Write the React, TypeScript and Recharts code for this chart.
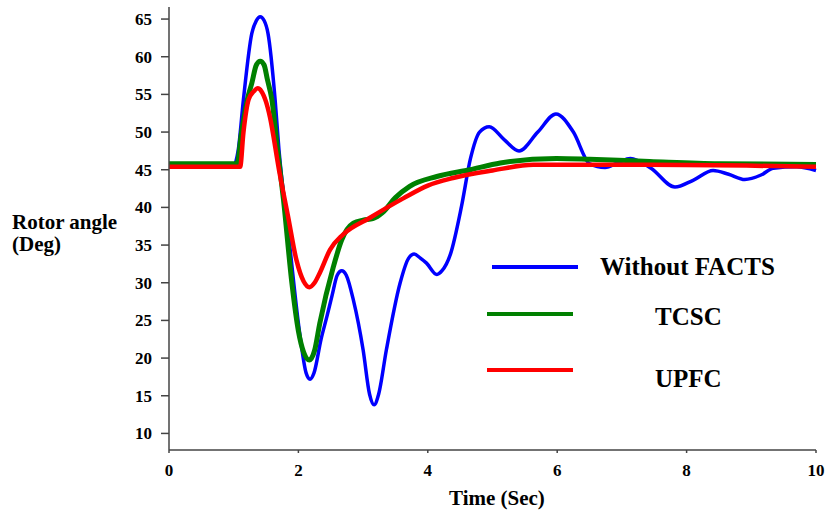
import { Line, LineChart, XAxis, YAxis } from "recharts";

// time (s) and rotor angle (deg)
const withoutFactsTime = [
  0, 1.0, 1.07, 1.15, 1.28, 1.35, 1.41, 1.47, 1.53, 1.64, 1.7, 1.84, 2.02,
  2.12, 2.18, 2.24, 2.35, 2.44, 2.52, 2.6, 2.67, 2.74, 2.85, 3.0, 3.1, 3.17,
  3.24, 3.36, 3.57, 3.7, 3.79, 3.88, 3.98, 4.14, 4.22, 4.35, 4.52, 4.66, 4.8,
  4.95, 5.18, 5.41, 5.7, 5.98, 6.25, 6.5, 6.74, 6.95, 7.13, 7.45, 7.82, 8.1,
  8.41, 8.65, 8.9, 9.15, 9.34, 9.7, 10,
];
const withoutFactsDeg = [
  45.5, 45.6, 47.6, 54.3, 63.1, 64.8, 65.3, 64.8, 63.1, 54.3, 47.6, 37, 23.3,
  18, 17.2, 18, 22.5, 25.5, 28.3, 31, 31.6, 31, 27.7, 21.1, 15.2, 13.8, 15.2,
  21.1, 29.9, 33.2, 33.8, 33.3, 32.6, 31.1, 31.6, 33.8, 40.1, 46.5, 50, 50.7,
  49, 47.5, 50, 52.4, 50, 45.8, 45.3, 46, 46.5, 45.2, 42.7, 43.6, 44.9, 44.4,
  43.7, 44.3, 45.2, 45.4, 44.9,
];

const tcscTime = [
  0, 1.05, 1.12, 1.21, 1.28, 1.35, 1.41, 1.47, 1.52, 1.59, 1.68, 1.77, 1.9,
  2.0, 2.08, 2.17, 2.25, 2.33, 2.54, 2.67, 2.85, 3.0, 3.15, 3.3, 3.5, 3.72,
  4.14, 4.65, 5.12, 5.99, 6.5, 7.43, 8.5, 10,
];
const tcscDeg = [
  45.8, 45.8, 49.9, 54.3, 56.5, 58.9, 59.4, 58.9, 57, 54.3, 47.5, 41, 29.9,
  23.6, 20.8, 19.75, 21, 24.6, 32.1, 35.7, 37.9, 38.3, 38.5, 39.3, 41.3, 42.8,
  44.1, 45.0, 45.9, 46.5, 46.4, 46.1, 45.8, 45.7,
];

const upfcTime = [
  0, 1.1, 1.15, 1.23, 1.31, 1.37, 1.43, 1.5, 1.56, 1.7, 1.84, 1.97, 2.08,
  2.17, 2.25, 2.33, 2.49, 2.69, 3.1, 3.62, 4.0, 4.39, 5.0, 5.63, 7.43, 10,
];
const upfcDeg = [
  45.4, 45.4, 49.9, 54.3, 55.4, 55.8, 55.4, 54, 52, 45, 38.8, 33, 30.2, 29.4,
  30, 31.3, 34.4, 36.4, 38.6, 41.2, 42.9, 43.9, 44.9, 45.65, 45.65, 45.4,
];

const xTicks = [0, 2, 4, 6, 8, 10];
const yTicks = [10, 15, 20, 25, 30, 35, 40, 45, 50, 55, 60, 65];

const toRows = (t: number[], v: number[]) => t.map((x, i) => ({ t: x, deg: v[i] }));

const FONT = "Liberation Serif";

const XTick = ({ x, y, payload }: any) => (
  <text x={x} y={y} dy={12} textAnchor="middle" fontFamily={FONT} fontWeight={700} fontSize={17} fill="#000">
    {payload.value}
  </text>
);

const YTick = ({ x, y, payload }: any) => (
  <text x={x} y={y} dy={6} textAnchor="end" fontFamily={FONT} fontWeight={700} fontSize={17} fill="#000">
    {payload.value}
  </text>
);

const textBox = (left: number, top: number, size: number): React.CSSProperties => ({
  position: "absolute",
  left,
  top,
  fontFamily: FONT,
  fontWeight: 700,
  fontSize: size,
  lineHeight: `${size}px`,
  color: "#000",
  whiteSpace: "nowrap",
});

const legendLine = (left: number, top: number, width: number, color: string): React.CSSProperties => ({
  position: "absolute",
  left,
  top,
  width,
  height: 4,
  background: color,
});

export default function App() {
  return (
    <div style={{ position: "absolute", left: 0, top: 0, width: 825, height: 511, background: "#fff", fontFamily: FONT }}>
      <LineChart width={825} height={511} margin={{ top: 7, right: 9, left: 0, bottom: 0 }}>
        <XAxis
          type="number"
          dataKey="t"
          domain={[0, 10]}
          ticks={xTicks}
          height={61}
          tickSize={3}
          tickMargin={11}
          stroke="#444"
          strokeWidth={1.5}
          tick={<XTick />}
          allowDuplicatedCategory={false}
        />
        <YAxis
          type="number"
          domain={[7.8, 66.6]}
          ticks={yTicks}
          width={169}
          tickSize={8}
          tickMargin={9}
          stroke="#444"
          strokeWidth={1.5}
          tick={<YTick />}
          allowDataOverflow
        />
        <Line
          data={toRows(withoutFactsTime, withoutFactsDeg)}
          dataKey="deg"
          type="monotone"
          stroke="#0000ff"
          strokeWidth={3.5}
          dot={false}
          isAnimationActive={false}
        />
        <Line
          data={toRows(tcscTime, tcscDeg)}
          dataKey="deg"
          type="monotone"
          stroke="#008000"
          strokeWidth={5}
          dot={false}
          isAnimationActive={false}
        />
        <Line
          data={toRows(upfcTime, upfcDeg)}
          dataKey="deg"
          type="monotone"
          stroke="#ff0000"
          strokeWidth={4.5}
          dot={false}
          isAnimationActive={false}
        />
      </LineChart>

      {/* axis titles */}
      <div style={textBox(12, 212, 21)}>Rotor angle</div>
      <div style={textBox(12, 234, 21)}>(Deg)</div>
      <div style={textBox(449, 488, 21)}>Time (Sec)</div>

      {/* legend */}
      <div style={legendLine(492, 265, 86, "#0000ff")} />
      <div style={textBox(600, 254, 25)}>Without FACTS</div>
      <div style={legendLine(487, 312, 86, "#008000")} />
      <div style={textBox(655, 304, 25)}>TCSC</div>
      <div style={legendLine(487, 368, 86, "#ff0000")} />
      <div style={textBox(655, 366, 25)}>UPFC</div>
    </div>
  );
}
